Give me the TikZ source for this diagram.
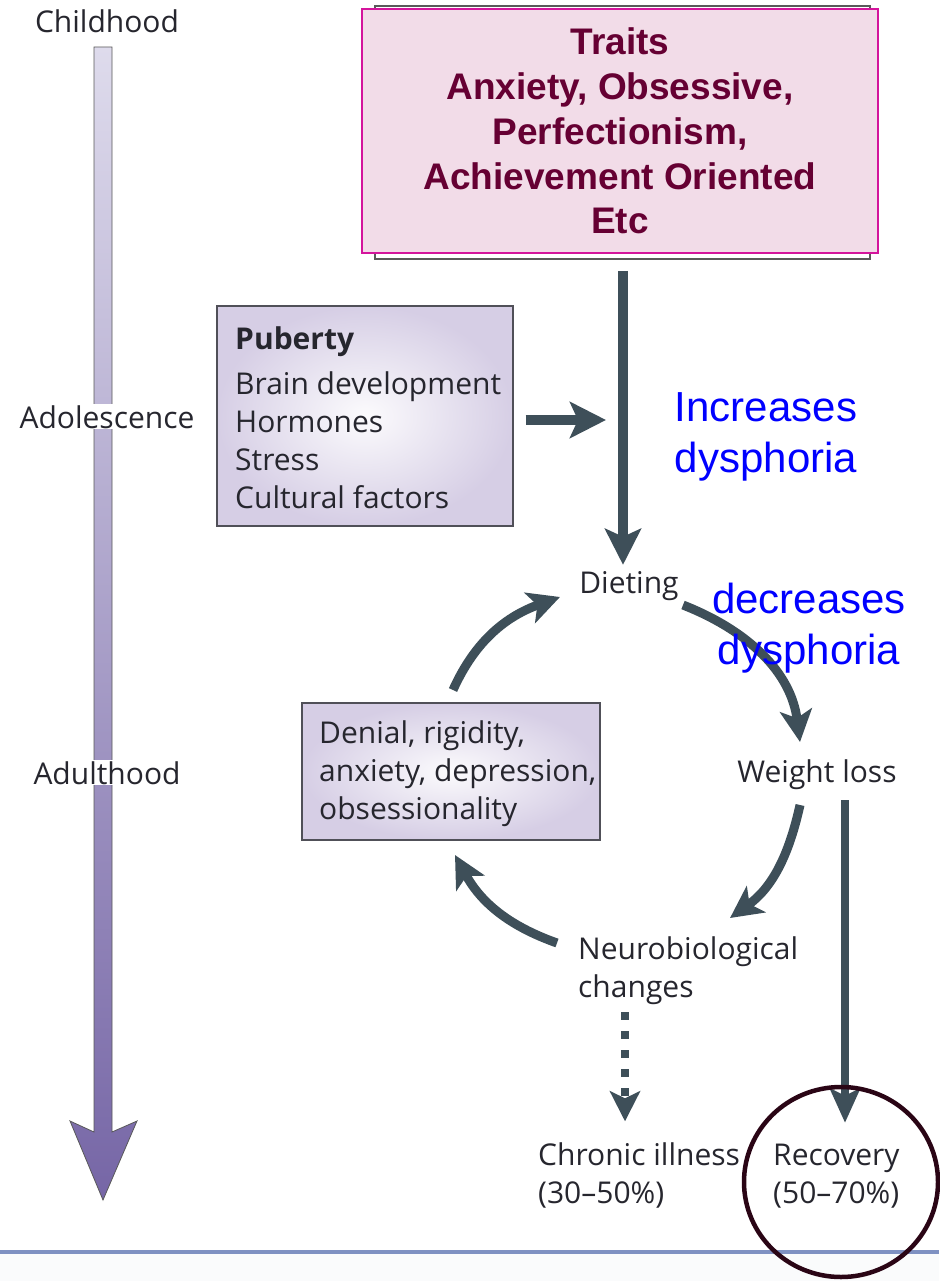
\documentclass[tikz,border=0pt]{standalone}
\usepackage{fontspec}
\setmainfont{Open Sans}
\newfontfamily\arialfont{Liberation Sans}
\usetikzlibrary{arrows.meta,shapes.geometric}
\definecolor{arrowc}{HTML}{3E4F59}
\definecolor{txt}{HTML}{26262E}
\definecolor{traitc}{HTML}{660033}
\definecolor{traitfill}{HTML}{F2DCE8}
\definecolor{traitborder}{HTML}{D4149C}
\definecolor{boxfill}{HTML}{D6CEE5}
\definecolor{boxborder}{HTML}{505058}
\definecolor{tltop}{HTML}{DEDBEC}
\definecolor{tlbot}{HTML}{7666A6}
\definecolor{blueT}{HTML}{0000FF}
\definecolor{ringc}{HTML}{2A0515}
\definecolor{rulec}{HTML}{7F91C2}
\begin{document}
\begin{tikzpicture}[x=1pt,y=-1pt,
  lbl/.style={inner sep=0pt, text=txt, font=\fontsize{30}{37.7}\selectfont, align=left},
  tl/.style={inner sep=1pt, fill=white, text=txt, font=\fontsize{30}{37.7}\selectfont},
  pbox/.style={draw=boxborder, line width=1.2pt, inner color=white!92!boxfill, outer color=boxfill, inner sep=0pt},
  bluet/.style={inner sep=0pt, text=blueT, font=\arialfont\fontsize{42}{51}\selectfont, align=center},
  arr/.style={draw=arrowc, line width=9pt, -{Stealth[length=32pt,width=32pt,inset=8pt]}},
  bigarr/.style={draw=arrowc, line width=10pt, -{Stealth[length=36pt,width=36pt,inset=8pt]}}
]
\useasboundingbox (0,0) rectangle (939,1281);
% bottom band
\fill[white!96!rulec] (0,1254) rectangle (939,1281);
\draw[rulec, line width=4pt] (0,1252) -- (939,1252);

% timeline
\path[draw=gray!70!black, line width=0.8pt, top color=tltop, bottom color=tlbot]
  (94,47) -- (112,47) -- (112,1132) -- (137,1121) -- (103,1200) -- (70,1121) -- (94,1132) -- cycle;
\node[tl, anchor=base] (childhood) at (107,33) {Childhood};
\node[tl, anchor=base] (adolescence) at (107,428) {Adolescence};
\node[tl, anchor=base] (adulthood) at (107,784) {Adulthood};

% traits box
\draw[gray!70!black, line width=1.2pt, fill=white] (375,6) rectangle (870,259);
\node[draw=traitborder, line width=1.6pt, fill=traitfill, minimum width=516pt, minimum height=244pt,
  inner sep=0pt, text=traitc, font=\arialfont\bfseries\fontsize{37}{44.8}\selectfont, align=center]
  (traits) at (620,131) {Traits\\Anxiety, Obsessive,\\Perfectionism,\\Achievement Oriented\\Etc};

% puberty box
\node[pbox, minimum width=296pt, minimum height=220pt] (puberty) at (365,416) {};
\node[lbl, anchor=base west] (pubtext) at (235,508) {\textbf{Puberty}\\[8pt]Brain development\\Hormones\\Stress\\Cultural factors};

% denial box
\node[pbox, minimum width=298pt, minimum height=137pt] (denial) at (451,771.5) {};
\node[lbl, anchor=base west] (dentext) at (319,819) {Denial, rigidity,\\anxiety, depression,\\obsessionality};

% cycle labels
\node[lbl, anchor=base] (dieting) at (629,593) {Dieting};
\node[lbl, anchor=base] (weight) at (817,782) {Weight loss};
\node[lbl, anchor=base west] (neuro) at (578,997) {Neurobiological\\changes};
\node[lbl, anchor=base west] (chronic) at (538,1203) {Chronic illness\\(30--50\%)};
\node[lbl, anchor=base west] (recovery) at (773,1203) {Recovery\\(50--70\%)};

% arrows
\draw[bigarr] ([xshift=3pt,yshift=-17pt]traits.south) -- ([xshift=-6pt,yshift=6pt]dieting.north);
\coordinate (join) at (606,420);
\draw[bigarr] ([xshift=12pt,yshift=-4pt]puberty.east) -- (join);

\coordinate (a1s) at (683,605); \coordinate (a1e) at (800,742);
\coordinate (a2s) at (800,805); \coordinate (a2e) at (730,918);
\coordinate (a3s) at (557,943); \coordinate (a3e) at (455,855);
\coordinate (a4s) at (453,690); \coordinate (a4e) at (560,597);
\draw[arr] (a1s) to[out=-21.5,in=97.3] (a1e);
\draw[arr] (a2s) to[out=-102.5,in=35.7] (a2e);
\draw[arr] (a3s) to[out=160.5,in=-61.4] (a3e);
\draw[arr] (a4s) to[out=65.8,in=199.7] (a4e);

\draw[arr, line width=8pt, -{Stealth[length=34pt,width=30pt,inset=7pt]}] ([xshift=28pt,yshift=-11pt]weight.south) -- ([xshift=72pt,yshift=21pt]recovery.north west);
\draw[arr, line width=8pt, dash pattern=on 8pt off 11pt, -{Stealth[length=30pt,width=30pt,inset=7pt]}]
  ([xshift=47pt,yshift=-8pt]neuro.south west) -- ([xshift=87pt,yshift=21pt]chronic.north west);

% blue annotations
\node[bluet, anchor=base] (inc) at (766,472) {Increases\\dysphoria};
\node[bluet, anchor=base] (dec) at (809,664) {decreases\\dysphoria};

% ring
\node[ellipse, draw=ringc, line width=4.5pt, minimum width=194pt, minimum height=190pt, inner sep=0pt] (ring) at (841,1182) {};
\end{tikzpicture}
\end{document}
